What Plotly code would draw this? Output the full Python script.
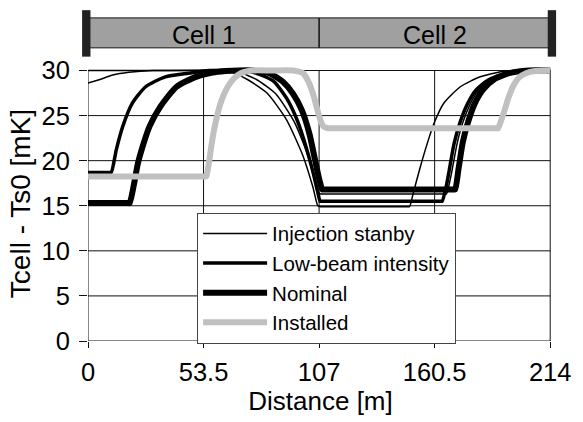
import plotly.graph_objects as go

# Axis ticks
distance_ticks = [0, 53.5, 107, 160.5, 214]
distance_tick_text = ["0", "53.5", "107", "160.5", "214"]
temp_ticks = [0, 5, 10, 15, 20, 25, 30]

# Cell layout along the line
cell_edges = [0, 107, 214]
cell_names = ["Cell 1", "Cell 2"]
cell_centres = [53.5, 160.5]

# Temperature profiles: distance [m] and Tcell - Ts0 [mK]
inj_x = [0, 5.5, 11.5, 19, 30, 45, 60, 66, 73.8, 82.9, 92, 99.6, 104.1, 106.4, 107.5, 108.5,
         130, 148, 148.9, 150.5, 153.5, 157.2, 160.3, 164.8, 172.4, 181.6, 192, 200, 214]
inj_y = [28.6, 29.0, 29.5, 29.8, 30, 30, 30, 29.85, 29.0, 27.5, 24.5, 20.5, 17.1, 15.0, 14.9, 14.9,
         14.9, 14.9, 14.9, 16.3, 19.0, 22.0, 24.2, 26.4, 28.2, 29.3, 29.9, 30, 30]

aux_x = [0, 30, 62, 70, 78, 87, 95.5, 101.5, 104.5, 106.6, 107.8, 108.8, 140, 165.2, 166, 167.8,
         169, 171, 173.5, 177, 181, 186.5, 193, 201, 214]
aux_y = [30, 30, 30, 29.8, 29.0, 27.4, 24.3, 20.8, 18.2, 16.5, 16.3, 16.3, 16.3, 16.3, 16.3, 18.0,
         19.5, 22.0, 24.2, 26.3, 27.9, 29.0, 29.6, 30, 30]

low_x = [0, 5, 10, 10.8, 13.1, 16.1, 20.6, 26.7, 35.8, 46.4, 56, 70, 78, 86, 92, 97, 101, 104,
         106.3, 107.5, 108.5, 130, 163.2, 164, 166, 167.3, 169.5, 172.2, 175.5, 179.5, 185, 192,
         200, 214]
low_y = [18.7, 18.7, 18.7, 18.7, 21.2, 23.8, 26.4, 28.2, 29.3, 29.7, 30, 30, 29.7, 28.8, 26.9,
         24.4, 21.5, 18.9, 16.6, 15.5, 15.5, 15.5, 15.5, 15.5, 17.3, 19.0, 21.9, 24.2, 26.2, 27.8,
         28.9, 29.6, 30, 30]

nom_x = [0, 10, 18.5, 19.3, 21.3, 23.1, 25.2, 28.5, 33.5, 41, 50, 60, 70, 76, 84, 90, 95, 99,
         102.5, 105.2, 107.2, 108.5, 109.5, 140, 169.2, 170, 171.5, 173.5, 176, 179, 183, 188,
         195, 204, 214]
nom_y = [15.3, 15.3, 15.3, 15.3, 17.4, 19.7, 21.5, 23.8, 26.0, 28.2, 29.3, 29.85, 30, 30, 29.7,
         28.8, 27.4, 25.6, 23.0, 20.0, 17.8, 16.8, 16.8, 16.8, 16.8, 16.8, 19.0, 22.0, 24.3, 26.3,
         27.9, 29.0, 29.7, 30, 30]

inst_x = [0, 30, 54, 54.8, 56, 57.1, 58.5, 60.1, 62, 64.7, 67.5, 70.7, 76, 85, 95, 99.6, 102,
          104.1, 105.8, 107.3, 109, 111, 113, 150, 189, 189.9, 191.2, 192.9, 194.7, 196.7, 199.5,
          202.8, 207, 214]
inst_y = [18.25, 18.25, 18.25, 18.25, 19.8, 21.6, 23.6, 25.3, 26.8, 28.2, 29.1, 29.7, 30, 30, 30,
          29.7, 28.8, 27.5, 26.0, 24.7, 23.8, 23.6, 23.6, 23.6, 23.6, 23.6, 24.4, 25.6, 27.0, 28.2,
          29.2, 29.7, 29.95, 30]

FONT = "Liberation Sans, Arial, sans-serif"
X_RANGE = [0, 215.3]
Y_RANGE = [0, 30.5]


def xp(v):
    """Distance in metres -> paper fraction."""
    return (v - X_RANGE[0]) / (X_RANGE[1] - X_RANGE[0])


fig = go.Figure()


def add_line(x, y, name, color, width, show=True):
    fig.add_trace(go.Scatter(
        x=x, y=y, mode="lines", name=name, showlegend=show,
        line=dict(color=color, width=width, shape="spline", smoothing=0.6),
        hoverinfo="skip",
    ))


add_line(aux_x, aux_y, "", "#000000", 1.5, show=False)
add_line(inj_x, inj_y, "Injection stanby", "#000000", 1.5)
add_line(low_x, low_y, "Low-beam intensity", "#000000", 3.5)
add_line(nom_x, nom_y, "Nominal", "#000000", 6)
add_line(inst_x, inst_y, "Installed", "#c0c0c0", 6)

shapes = []
# grid, limited to the 0..214 m by 0..30 mK frame
for xv in distance_ticks:
    shapes.append(dict(type="line", xref="x", yref="y", x0=xv, x1=xv,
                       y0=temp_ticks[0], y1=temp_ticks[-1],
                       line=dict(color="#111111", width=1), layer="below"))
for yv in temp_ticks:
    shapes.append(dict(type="line", xref="x", yref="y", x0=distance_ticks[0],
                       x1=distance_ticks[-1], y0=yv, y1=yv,
                       line=dict(color="#111111", width=1), layer="below"))

# cell bar above the plot
bar_lo, bar_hi = 1.066, 1.175
cap_lo, cap_hi = 1.034, 1.203
shapes.append(dict(type="rect", xref="paper", yref="paper",
                   x0=xp(cell_edges[0]), x1=xp(cell_edges[-1]), y0=bar_lo, y1=bar_hi,
                   fillcolor="#a0a0a0", line=dict(color="#111111", width=1)))
for e in cell_edges[1:-1]:
    shapes.append(dict(type="line", xref="paper", yref="paper",
                       x0=xp(e), x1=xp(e), y0=bar_lo, y1=bar_hi,
                       line=dict(color="#111111", width=1.5)))
shapes.append(dict(type="rect", xref="paper", yref="paper",
                   x0=xp(cell_edges[0]) - 0.0127, x1=xp(cell_edges[0]) + 0.0053,
                   y0=cap_lo, y1=cap_hi, fillcolor="#222222", line=dict(width=0)))
shapes.append(dict(type="rect", xref="paper", yref="paper",
                   x0=xp(cell_edges[-1]) - 0.0053, x1=xp(cell_edges[-1]) + 0.0127,
                   y0=cap_lo, y1=cap_hi, fillcolor="#222222", line=dict(width=0)))

annotations = [
    dict(x=cx, y=(bar_lo + bar_hi) / 2 - 0.006, xref="x", yref="paper", text=name,
         showarrow=False, xanchor="center", yanchor="middle",
         font=dict(family=FONT, size=25, color="#000000"))
    for cx, name in zip(cell_centres, cell_names)
]

fig.update_layout(
    width=583, height=422,
    margin=dict(l=88, r=22, t=66, b=81),
    paper_bgcolor="white", plot_bgcolor="white",
    font=dict(family=FONT, size=25.5, color="#000000"),
    shapes=shapes, annotations=annotations,
    legend=dict(
        x=0.2346, y=0.467, xanchor="left", yanchor="top",
        bgcolor="white", bordercolor="#444444", borderwidth=1,
        font=dict(family=FONT, size=20.5, color="#000000"),
        itemwidth=64,
    ),
    xaxis=dict(
        range=X_RANGE, tickmode="array", tickvals=distance_ticks, ticktext=distance_tick_text,
        ticks="outside", ticklen=6, tickcolor="#111111", showgrid=False, showline=False,
        zeroline=False, ticklabelstandoff=2,
        title=dict(text="Distance [m]", font=dict(size=26), standoff=6),
    ),
    yaxis=dict(
        range=Y_RANGE, tickmode="array", tickvals=temp_ticks,
        ticks="outside", ticklen=8, tickcolor="#111111", showgrid=False, showline=False,
        zeroline=False, ticklabelstandoff=4,
        title=dict(text="Tcell - Ts0 [mK]", font=dict(size=28), standoff=2),
    ),
)

fig.write_html("out.html")
